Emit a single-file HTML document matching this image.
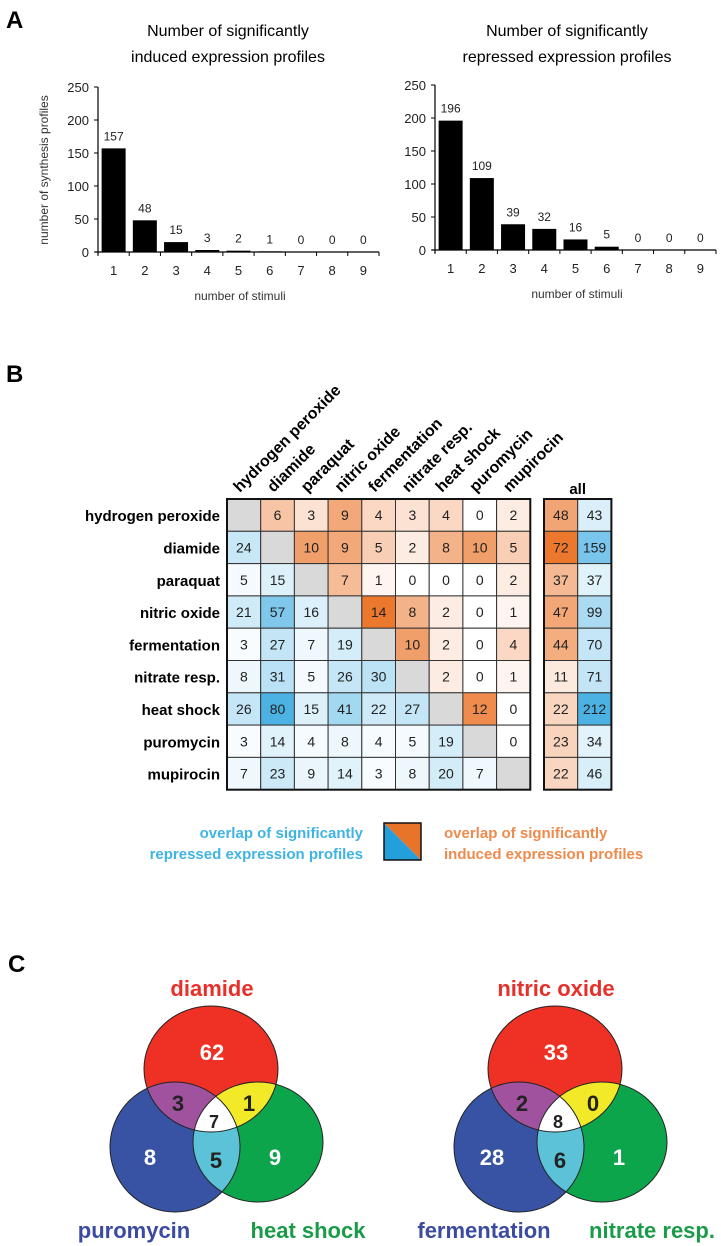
<!DOCTYPE html>
<html><head><meta charset="utf-8"><style>
html,body{margin:0;padding:0;background:#fff;}
svg{display:block;font-family:"Liberation Sans",sans-serif;}
</style></head><body>
<svg id="fig" width="721" height="1246" viewBox="0 0 721 1246" xmlns="http://www.w3.org/2000/svg">
<text x="6" y="28" font-size="24" font-weight="bold">A</text>
<text x="6" y="382" font-size="24" font-weight="bold">B</text>
<text x="8" y="972" font-size="24" font-weight="bold">C</text>
<g id="barsA"></g><g id="heat"></g><g id="venn"></g>
</svg>
<script>
const NS="http://www.w3.org/2000/svg";
function mk(parent,tag,attrs,text){const e=document.createElementNS(NS,tag);for(const k in attrs)e.setAttribute(k,attrs[k]);if(text!==undefined)e.textContent=text;parent.appendChild(e);return e;}

// ---- Panel A data ----
const stimuliCategories=["1","2","3","4","5","6","7","8","9"];
const inducedCounts=[157,48,15,3,2,1,0,0,0];
const repressedCounts=[196,109,39,32,16,5,0,0,0];
const yTicks=[0,50,100,150,200,250];

function barChart(g,cfg,vals,name){
  const ys=v=>cfg.y0-(v/250)*(cfg.y0-cfg.y250);
  const slot=(cfg.xEnd-cfg.x0)/stimuliCategories.length;
  const xs=i=>cfg.x0+slot*(i+0.5);
  const t1=mk(g,"text",{x:cfg.tx,y:36,"text-anchor":"middle","font-size":16},cfg.title1);
  
  
  const t2=mk(g,"text",{x:cfg.tx,y:62,"text-anchor":"middle","font-size":16},cfg.title2);
  
  
  const ya=mk(g,"line",{x1:cfg.x0,y1:cfg.y250,x2:cfg.x0,y2:cfg.y0+3,stroke:"#000","stroke-width":1.2});
  
  
  const xa=mk(g,"line",{x1:cfg.x0-3,y1:cfg.y0,x2:cfg.xEnd,y2:cfg.y0,stroke:"#000","stroke-width":1.2});
  
  
  yTicks.forEach(t=>{
    mk(g,"line",{x1:cfg.x0-4,x2:cfg.x0,y1:ys(t),y2:ys(t),stroke:"#000"});
    const l=mk(g,"text",{x:cfg.x0-9,y:ys(t)+5,"text-anchor":"end","font-size":13,fill:"#222"},String(t));
    
    
  });
  for(let i=0;i<=stimuliCategories.length;i++){const x=cfg.x0+slot*i;mk(g,"line",{x1:x,x2:x,y1:cfg.y0,y2:cfg.y0+4,stroke:"#000"});}
  stimuliCategories.forEach((c,i)=>{
    const v=vals[i];
    const b=mk(g,"rect",{x:xs(i)-12,y:ys(v),width:24,height:cfg.y0-ys(v),fill:"#000"});
    
    
    const vl=mk(g,"text",{x:xs(i),y:ys(v)-8,"text-anchor":"middle","font-size":12,fill:"#222"},String(v));
    
    
    const xl=mk(g,"text",{x:xs(i),y:cfg.y0+23,"text-anchor":"middle","font-size":13,fill:"#222"},c);
    
    
  });
  const xt=mk(g,"text",{x:cfg.xl,y:cfg.y0+48,"text-anchor":"middle","font-size":12,fill:"#333"},"number of stimuli");
  
  
}
const gA=document.getElementById("barsA");
const yt=mk(gA,"text",{x:0,y:0,transform:"translate(48,170) rotate(-90)","text-anchor":"middle","font-size":12,fill:"#333"},"number of synthesis profiles");


barChart(gA,{x0:98,xEnd:379,y0:252,y250:87,tx:228,xl:240,title1:"Number of significantly",title2:"induced expression profiles"},inducedCounts,"induced-chart");
barChart(gA,{x0:435,xEnd:716,y0:250,y250:85,tx:567,xl:577,title1:"Number of significantly",title2:"repressed expression profiles"},repressedCounts,"repressed-chart");

// ---- Panel B data ----
const stimuli=["hydrogen peroxide","diamide","paraquat","nitric oxide","fermentation","nitrate resp.","heat shock","puromycin","mupirocin"];
const overlapMatrix=[
[null,6,3,9,4,3,4,0,2],
[24,null,10,9,5,2,8,10,5],
[5,15,null,7,1,0,0,0,2],
[21,57,16,null,14,8,2,0,1],
[3,27,7,19,null,10,2,0,4],
[8,31,5,26,30,null,2,0,1],
[26,80,15,41,22,27,null,12,0],
[3,14,4,8,4,5,19,null,0],
[7,23,9,14,3,8,20,7,null]];
const allInduced=[48,72,37,47,44,11,22,23,22];
const allRepressed=[43,159,37,99,70,71,212,34,46];

function mix(c,t){t=Math.max(0,Math.min(1,t));const r=Math.round(255+(c[0]-255)*t),g=Math.round(255+(c[1]-255)*t),b=Math.round(255+(c[2]-255)*t);return `rgb(${r},${g},${b})`;}
const ORANGE=[236,120,46],BLUE=[76,178,228];
const gB=document.getElementById("heat");
const hx0=227,hy0=499,cw=33.7,ch=32.3;
const maxInd=14,maxRep=80;
stimuli.forEach((s,i)=>{
  const rl=mk(gB,"text",{x:220,y:hy0+ch*i+ch/2+6,"text-anchor":"end","font-size":15,"font-weight":"bold"},s);
  
  
  const cx=hx0+cw*i+cw/2;
  const cl=mk(gB,"text",{x:0,y:0,transform:`translate(${cx-4},${hy0-6}) rotate(-45)`,"font-size":16,"font-weight":"bold"},s);
  
  
});
overlapMatrix.forEach((row,i)=>row.forEach((v,j)=>{
  const x=hx0+cw*j,y=hy0+ch*i;
  let fill="#d9d9d9";
  if(v!==null) fill=j>i?mix(ORANGE,v/maxInd):mix(BLUE,v/maxRep);
  const r=mk(gB,"rect",{x:x,y:y,width:cw,height:ch,fill:fill,stroke:"#333","stroke-width":1});
  
  
  if(v!==null){const t=mk(gB,"text",{x:x+cw/2,y:y+ch/2+5,"text-anchor":"middle","font-size":14,fill:"#222"},String(v));
  
  }
}));
mk(gB,"rect",{x:hx0,y:hy0,width:cw*9,height:ch*9,fill:"none",stroke:"#111","stroke-width":2});
const ax0=544;
stimuli.forEach((s,i)=>{
  const y=hy0+ch*i;
  [[allInduced[i],ORANGE,72],[allRepressed[i],BLUE,212]].forEach((d,k)=>{
    const r=mk(gB,"rect",{x:ax0+cw*k,y:y,width:cw,height:ch,fill:mix(d[1],d[0]/d[2]),stroke:"#333","stroke-width":1});
    
    
    const t=mk(gB,"text",{x:ax0+cw*k+cw/2,y:y+ch/2+5,"text-anchor":"middle","font-size":14,fill:"#222"},String(d[0]));
    
    
  });
});
mk(gB,"rect",{x:ax0,y:hy0,width:cw*2,height:ch*9,fill:"none",stroke:"#111","stroke-width":2});
const al=mk(gB,"text",{x:ax0+cw,y:hy0-5,"text-anchor":"middle","font-size":15,"font-weight":"bold"},"all");


// legend
const lg=mk(gB,"g",{});


mk(lg,"text",{x:363,y:838,"text-anchor":"end","font-size":15,"font-weight":"bold",fill:"#3fb4e3"},"overlap of significantly");
mk(lg,"text",{x:363,y:859,"text-anchor":"end","font-size":15,"font-weight":"bold",fill:"#3fb4e3"},"repressed expression profiles");
mk(lg,"polygon",{points:"384,823 421,860 384,860",fill:"#23a0dc"});
mk(lg,"polygon",{points:"384,823 421,823 421,860",fill:"#e8742a"});
mk(lg,"rect",{x:384,y:823,width:37,height:37,fill:"none",stroke:"#111","stroke-width":1.5});
mk(lg,"text",{x:444,y:838,"font-size":15,"font-weight":"bold",fill:"#ee8a4c"},"overlap of significantly");
mk(lg,"text",{x:444,y:859,"font-size":15,"font-weight":"bold",fill:"#ee8a4c"},"induced expression profiles");

// ---- Panel C data ----
const vennTitles=[["diamide","puromycin","heat shock"],["nitric oxide","fermentation","nitrate resp."]];
// order: topOnly, leftOnly, rightOnly, topLeft, topRight, leftRight, all
const vennCounts=[[62,8,9,3,1,5,7],[33,28,1,2,0,6,8]];
const gC=document.getElementById("venn");
const defs=mk(gC,"defs",{});
vennCounts.forEach((cnt,k)=>{
  const dx=k*344;
  const R={cx:211+dx,cy:1069,rx:67,ry:63},B={cx:175+dx,cy:1147,rx:65,ry:65},G={cx:258+dx,cy:1142,rx:65,ry:60};
  ["R","B","G"].forEach((n,ii)=>{const e=[R,B,G][ii];const cp=mk(defs,"clipPath",{id:"c"+n+k});mk(cp,"ellipse",e);});
  const g=mk(gC,"g",{});
  
  
  mk(g,"ellipse",Object.assign({fill:"#ee3124"},R));
  mk(g,"ellipse",Object.assign({fill:"#3853a4"},B));
  mk(g,"ellipse",Object.assign({fill:"#0da54b"},G));
  mk(g,"ellipse",Object.assign({fill:"#5bc2d8","clip-path":`url(#cB${k})`},G));
  mk(g,"ellipse",Object.assign({fill:"#a0529f","clip-path":`url(#cR${k})`},B));
  mk(g,"ellipse",Object.assign({fill:"#f2ea28","clip-path":`url(#cR${k})`},G));
  const w1=mk(g,"g",{"clip-path":`url(#cR${k})`});
  const w2=mk(w1,"g",{"clip-path":`url(#cB${k})`});
  mk(w2,"ellipse",Object.assign({fill:"#ffffff"},G));
  [R,B,G].forEach(e=>mk(g,"ellipse",Object.assign({fill:"none",stroke:"#222","stroke-width":1},e)));
  const pos=[[212,1052,"#fff"],[150,1157,"#fff"],[275,1157,"#fff"],[178,1103,"#222"],[249,1103,"#222"],[216,1160,"#222"],[214,1122,"#222"]];
  cnt.forEach((v,i)=>{
    const p=pos[i];
    const t=mk(g,"text",{x:p[0]+dx+(k&&i===1?-2:0),y:p[1]+(i===6?6:8),"text-anchor":"middle","font-size":i===6?18:22,"font-weight":"bold",fill:p[2]},String(v));
    
    
  });
  const lt=mk(g,"text",{x:212+dx,y:996,"text-anchor":"middle","font-size":22,"font-weight":"bold",fill:"#e8302a"},vennTitles[k][0]);
  
  
  const ll=mk(g,"text",{x:(k?484:134),y:1238,"text-anchor":"middle","font-size":22,"font-weight":"bold",fill:"#3b4ba0"},vennTitles[k][1]);
  
  
  const lr=mk(g,"text",{x:(k?652:308),y:1238,"text-anchor":"middle","font-size":22,"font-weight":"bold",fill:"#1a9b48"},vennTitles[k][2]);
  
  
});
</script>
</body></html>
